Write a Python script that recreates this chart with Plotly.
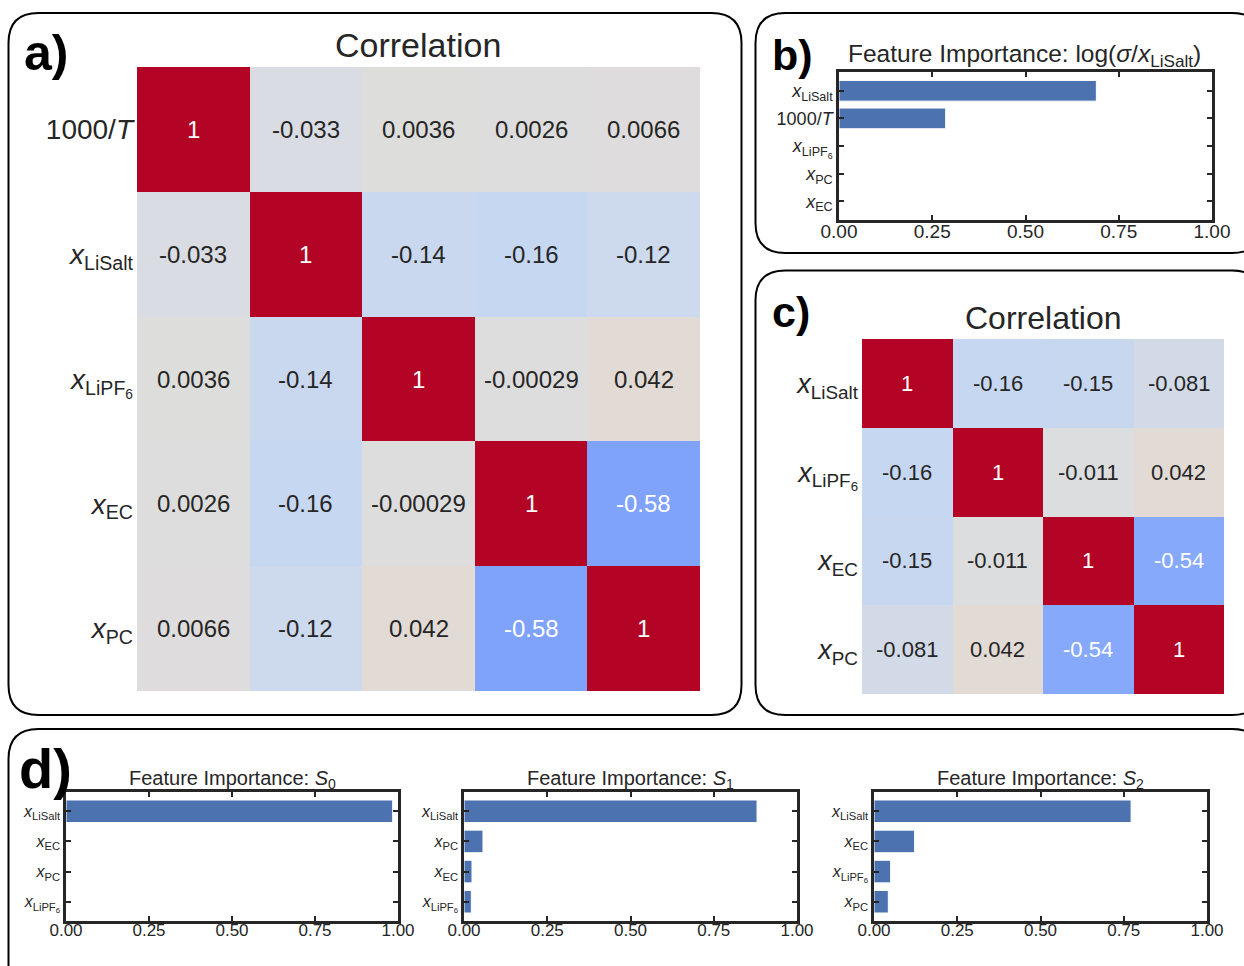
import plotly.graph_objects as go

# ---------------- data ----------------
# a) correlation between all five inputs
a_labels = ["1000/T", "x_LiSalt", "x_LiPF6", "x_EC", "x_PC"]
a_corr = [
    [1, -0.033, 0.0036, 0.0026, 0.0066],
    [-0.033, 1, -0.14, -0.16, -0.12],
    [0.0036, -0.14, 1, -0.00029, 0.042],
    [0.0026, -0.16, -0.00029, 1, -0.58],
    [0.0066, -0.12, 0.042, -0.58, 1],
]

# c) correlation between composition inputs
c_labels = ["x_LiSalt", "x_LiPF6", "x_EC", "x_PC"]
c_corr = [
    [1, -0.16, -0.15, -0.081],
    [-0.16, 1, -0.011, 0.042],
    [-0.15, -0.011, 1, -0.54],
    [-0.081, 0.042, -0.54, 1],
]

# b) feature importance for log(sigma / x_LiSalt)
b_features = ["x_LiSalt", "1000/T", "x_LiPF6", "x_PC", "x_EC"]
b_importance = [0.69, 0.286, 0.001, 0.001, 0.001]

# d) feature importance for S0, S1, S2
s0_features = ["x_LiSalt", "x_EC", "x_PC", "x_LiPF6"]
s0_importance = [0.984, 0.001, 0.001, 0.001]
s1_features = ["x_LiSalt", "x_PC", "x_EC", "x_LiPF6"]
s1_importance = [0.88, 0.057, 0.024, 0.022]
s2_features = ["x_LiSalt", "x_EC", "x_LiPF6", "x_PC"]
s2_importance = [0.772, 0.122, 0.05, 0.043]

x_ticks = [0, 0.25, 0.5, 0.75, 1.0]

# ---------------- styling helpers ----------------
W, H = 1244, 966
FONT = "Liberation Sans, Arial, sans-serif"
INK = "#262626"
BAR = "#4c72b0"

LABEL_HTML = {
    "1000/T": "1000/<i>T</i>",
    "x_LiSalt": "<i>x</i><sub>LiSalt</sub>",
    "x_LiPF6": "<i>x</i><sub>LiPF<sub>6</sub></sub>",
    "x_EC": "<i>x</i><sub>EC</sub>",
    "x_PC": "<i>x</i><sub>PC</sub>",
}

# matplotlib "coolwarm" anchor colours
_cw = [
    (0.2298057, 0.298717966, 0.753683153), (0.26623388, 0.353094838, 0.801466763),
    (0.30386891, 0.406535296, 0.84495867), (0.342804478, 0.458757618, 0.883725899),
    (0.38301334, 0.50941904, 0.917387822), (0.424369608, 0.558148092, 0.945619588),
    (0.46666708, 0.604562568, 0.968154911), (0.509635204, 0.648280772, 0.98478814),
    (0.552953156, 0.688929332, 0.995375608), (0.596262162, 0.726149107, 0.999836203),
    (0.639176211, 0.759599947, 0.998151185), (0.681291281, 0.788964712, 0.990363227),
    (0.722193294, 0.813952739, 0.976574709), (0.761464949, 0.834302879, 0.956945269),
    (0.798691636, 0.849786142, 0.931689131), (0.833466556, 0.860207984, 0.901068838),
    (0.865395197, 0.86541021, 0.865395561), (0.897787179, 0.848937047, 0.820880546),
    (0.924127593, 0.827384882, 0.774508472), (0.944468518, 0.800927443, 0.726736146),
    (0.958852946, 0.769767752, 0.678007945), (0.96732803, 0.734132809, 0.628751763),
    (0.969954137, 0.694266682, 0.579375448), (0.966811177, 0.650421156, 0.530263762),
    (0.958003065, 0.602842431, 0.481775914), (0.943660866, 0.551750968, 0.434243684),
    (0.923944917, 0.49730856, 0.387970225), (0.89904617, 0.439559467, 0.343229596),
    (0.869186849, 0.378313092, 0.300267182), (0.834620542, 0.312874446, 0.259301199),
    (0.795631745, 0.24128379, 0.220525627), (0.752534934, 0.157246067, 0.184115123),
    (0.705673158, 0.01555616, 0.150232812),
]
n_cw = len(_cw) - 1
coolwarm = [[i / n_cw, "rgb(%d,%d,%d)" % tuple(round(255 * c) for c in rgb)]
            for i, rgb in enumerate(_cw)]


def cw_rgb(v, vmin=-1.0, vmax=1.0):
    t = min(max((v - vmin) / (vmax - vmin), 0.0), 1.0) * n_cw
    i = min(int(t), n_cw - 1)
    f = t - i
    return tuple(_cw[i][k] + f * (_cw[i + 1][k] - _cw[i][k]) for k in range(3))


def text_colour(v):
    def lin(c):
        return c / 12.92 if c <= 0.03928 else ((c + 0.055) / 1.055) ** 2.4
    r, g, b = (lin(c) for c in cw_rgb(v))
    lum = 0.2126 * r + 0.7152 * g + 0.0722 * b
    return INK if lum > 0.408 else "white"


def px_x(x):
    return x / W


def px_y(y):
    return 1 - y / H


fig = go.Figure()
annotations = []


def add_heatmap(idx, labels, corr, x0, x1, y0, y1, tick_size, cell_size):
    n = len(labels)
    xa, ya = ("x%d" % idx if idx > 1 else "x"), ("y%d" % idx if idx > 1 else "y")
    fig.add_trace(go.Heatmap(
        z=corr, x=list(range(n)), y=list(range(n)),
        colorscale=coolwarm, zmin=-1, zmax=1, showscale=False,
        xaxis=xa, yaxis=ya, hoverinfo="skip",
    ))
    for r in range(n):
        for c in range(n):
            v = corr[r][c]
            annotations.append(dict(
                x=c, y=r, xref=xa, yref=ya, text=format(v, ".2g"), showarrow=False,
                font=dict(family=FONT, size=cell_size, color=text_colour(v)),
            ))
    key = "" if idx == 1 else str(idx)
    fig.update_layout(**{
        "xaxis" + key: dict(domain=[px_x(x0), px_x(x1)], range=[-0.5, n - 0.5],
                            showticklabels=False, showgrid=False, zeroline=False,
                            ticks="", anchor=ya, automargin=False),
        "yaxis" + key: dict(domain=[px_y(y1), px_y(y0)], range=[n - 0.5, -0.5],
                            tickvals=list(range(n)),
                            ticktext=[LABEL_HTML[l] for l in labels],
                            tickfont=dict(family=FONT, size=tick_size, color=INK),
                            showgrid=False, zeroline=False, ticks="",
                            ticklabelstandoff=3, anchor=xa, automargin=False),
    })


def add_bars(idx, features, values, x0, x1, y0, y1, tick_size, label_size, pad):
    n = len(features)
    xa, ya = "x%d" % idx, "y%d" % idx
    fig.add_trace(go.Bar(
        x=values, y=list(range(n)), orientation="h", width=0.75,
        marker=dict(color=BAR, line=dict(color="white", width=1)),
        xaxis=xa, yaxis=ya, hoverinfo="skip", showlegend=False,
    ))
    frame = dict(showline=True, linecolor=INK, linewidth=2.5, mirror="allticks",
                 ticks="inside", ticklen=5, tickwidth=2, tickcolor=INK,
                 showgrid=False, zeroline=False, automargin=False)
    fig.update_layout(**{
        "xaxis%d" % idx: dict(domain=[px_x(x0), px_x(x1)], range=[0, 1],
                              tickvals=x_ticks, ticktext=["%.2f" % t for t in x_ticks],
                              tickfont=dict(family=FONT, size=tick_size, color=INK),
                              ticklabelstandoff=-8, anchor=ya, **frame),
        "yaxis%d" % idx: dict(domain=[px_y(y1), px_y(y0)], range=[n - 1 + pad, -pad],
                              tickvals=list(range(n)),
                              ticktext=[LABEL_HTML[f] for f in features],
                              tickfont=dict(family=FONT, size=label_size, color=INK),
                              ticklabelstandoff=0, anchor=xa, **frame),
    })


# a) and c) heatmaps
add_heatmap(1, a_labels, a_corr, 137, 700, 67, 691, 28, 24)
add_heatmap(2, c_labels, c_corr, 862, 1224, 339, 694, 27, 22)

# b) and d) bar charts
add_bars(3, b_features, b_importance, 839, 1212, 72, 220, 19, 18, 0.68)
add_bars(4, s0_features, s0_importance, 66, 398, 792, 921, 17, 16, 0.64)
add_bars(5, s1_features, s1_importance, 464, 797, 792, 921, 17, 16, 0.64)
add_bars(6, s2_features, s2_importance, 874, 1207, 792, 921, 17, 16, 0.64)


def title(text, x, y, size):
    annotations.append(dict(x=px_x(x), y=px_y(y), xref="paper", yref="paper",
                            text=text, showarrow=False, xanchor="center", yanchor="middle",
                            font=dict(family=FONT, size=size, color=INK)))


def panel_letter(text, x, y, size):
    annotations.append(dict(x=px_x(x), y=px_y(y), xref="paper", yref="paper",
                            text="<b>%s</b>" % text, showarrow=False,
                            xanchor="left", yanchor="middle",
                            font=dict(family=FONT, size=size, color="black")))


title("Correlation", 418, 45, 34)
title("Correlation", 1043, 318, 32)
title("Feature Importance: log(<i>σ</i>/<i>x</i><sub>LiSalt</sub>)", 1024, 55, 24.5)
title("Feature Importance: <i>S</i><sub>0</sub>", 232, 779, 20)
title("Feature Importance: <i>S</i><sub>1</sub>", 630, 779, 20)
title("Feature Importance: <i>S</i><sub>2</sub>", 1040, 779, 20)

panel_letter("a)", 22, 53, 50)
panel_letter("b)", 770, 55, 43)
panel_letter("c)", 770, 312, 43)
panel_letter("d)", 17, 768, 56)


def rounded_box(x0, y0, x1, y1, r):
    pts = [
        "M %f,%f" % (px_x(x0 + r), px_y(y0)),
        "L %f,%f" % (px_x(x1 - r), px_y(y0)),
        "Q %f,%f %f,%f" % (px_x(x1), px_y(y0), px_x(x1), px_y(y0 + r)),
        "L %f,%f" % (px_x(x1), px_y(y1 - r)),
        "Q %f,%f %f,%f" % (px_x(x1), px_y(y1), px_x(x1 - r), px_y(y1)),
        "L %f,%f" % (px_x(x0 + r), px_y(y1)),
        "Q %f,%f %f,%f" % (px_x(x0), px_y(y1), px_x(x0), px_y(y1 - r)),
        "L %f,%f" % (px_x(x0), px_y(y0 + r)),
        "Q %f,%f %f,%f" % (px_x(x0), px_y(y0), px_x(x0 + r), px_y(y0)),
        "Z",
    ]
    return dict(type="path", path=" ".join(pts), xref="paper", yref="paper",
                line=dict(color="black", width=2), fillcolor="rgba(0,0,0,0)",
                layer="below")


shapes = [
    rounded_box(8.5, 13, 741.5, 715, 30),
    rounded_box(755.5, 13, 1262, 253, 30),
    rounded_box(755.5, 270.5, 1262, 715, 30),
    rounded_box(8.5, 729, 1262, 1010, 30),
]

fig.update_layout(
    width=W, height=H, margin=dict(l=0, r=0, t=0, b=0),
    paper_bgcolor="white", plot_bgcolor="white",
    showlegend=False, annotations=annotations, shapes=shapes,
    font=dict(family=FONT, color=INK),
)

fig.write_html("out.html")
